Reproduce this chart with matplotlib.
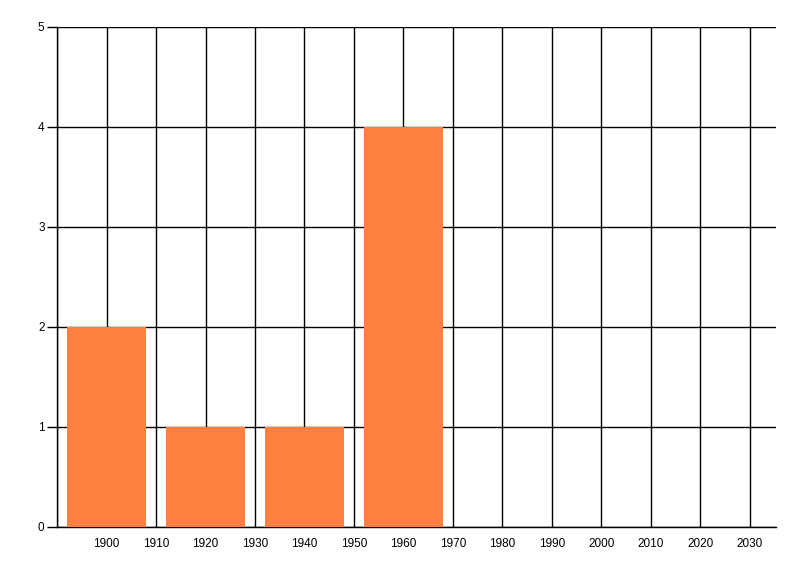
import matplotlib
matplotlib.use("Agg")
import matplotlib.pyplot as plt

years = [1900, 1920, 1940, 1960]
counts = [2, 1, 1, 4]
xticks = list(range(1900, 2031, 10))
yticks = [0, 1, 2, 3, 4, 5]

plt.rcParams['font.family'] = ['Liberation Sans', 'DejaVu Sans']

fig = plt.figure(figsize=(8, 5.76), dpi=100)
ax = fig.add_axes([0.0713, 0.0851, 0.8982, 0.8681])

ax.bar(years, counts, width=16, color='#FF8040', zorder=3)

ax.set_xlim(1890, 2035.2)
ax.set_ylim(0, 5)

# vertical grid every 10 years including the unlabelled 1890 line
for x in range(1890, 2031, 10):
    ax.axvline(x, color='black', linewidth=1.0, zorder=1)
for y in yticks:
    ax.axhline(y, color='black', linewidth=1.0, zorder=1)

ax.set_xticks(xticks)
ax.set_xticklabels([str(x) for x in xticks], fontsize=8.5)
ax.set_yticks(yticks)
ax.set_yticklabels([str(y) for y in yticks], fontsize=8.5)
ax.tick_params(axis='x', length=0, pad=8)
ax.tick_params(axis='y', length=7, width=1.0, pad=2)

for s in ['top', 'right']:
    ax.spines[s].set_visible(False)
for s in ['left', 'bottom']:
    ax.spines[s].set_linewidth(1.0)

fig.savefig('out.png', dpi=100)
